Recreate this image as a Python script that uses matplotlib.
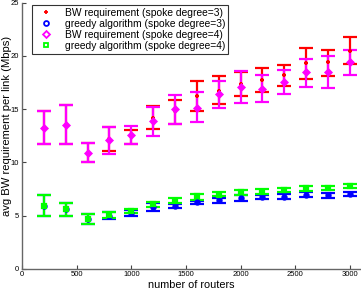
import numpy as np
import matplotlib
matplotlib.use("Agg")
import matplotlib.pyplot as plt

plt.rcParams["font.family"] = ["Liberation Sans", "DejaVu Sans"]

# ── data ─────────────────────────────────────────────────────────────────────
routers = [200, 400, 600, 800, 1000, 1200, 1400, 1600, 1800, 2000, 2200, 2400, 2600, 2800, 3000]

bw3_mean = [13.2, 13.5, 10.9, 12.2, 12.5, 14.2, 14.8, 16.2, 16.7, 17.4, 17.7, 18.2, 19.3, 19.4, 20.5]
bw3_low  = [11.7, 11.7, 10.0, 11.05, 11.7, 13.15, 13.6, 14.8, 15.5, 16.2, 16.6, 17.2, 17.85, 18.1, 19.25]
bw3_high = [14.8, 15.35, 11.8, 13.3, 13.0, 15.25, 15.85, 17.6, 18.1, 18.5, 18.9, 19.1, 20.7, 20.6, 21.75]

gr3_mean = [5.9, 5.6, 4.65, 5.0, 5.2, 5.8, 5.9, 6.25, 6.45, 6.6, 6.75, 6.75, 6.95, 6.9, 7.0]
gr3_low  = [4.93, 4.93, 4.2, 4.7, 4.95, 5.45, 5.7, 6.05, 6.2, 6.4, 6.55, 6.55, 6.7, 6.65, 6.8]
gr3_high = [6.9, 6.2, 5.1, 5.35, 5.5, 6.15, 6.1, 6.4, 6.65, 6.9, 6.95, 7.0, 7.2, 7.15, 7.2]

bw4_mean = [13.2, 13.5, 10.9, 12.1, 12.6, 13.9, 15.0, 15.1, 16.4, 17.1, 16.9, 17.55, 18.45, 18.5, 19.4]
bw4_low  = [11.7, 11.7, 10.0, 10.8, 11.7, 12.5, 13.6, 13.75, 15.1, 15.6, 15.7, 16.45, 17.1, 17.0, 18.2]
bw4_high = [14.8, 15.35, 11.8, 13.3, 13.4, 15.2, 16.35, 16.6, 17.6, 18.55, 18.25, 18.65, 19.7, 19.95, 20.6]

gr4_mean = [5.9, 5.6, 4.65, 5.05, 5.4, 6.05, 6.4, 6.8, 6.95, 7.2, 7.25, 7.4, 7.55, 7.55, 7.75]
gr4_low  = [4.93, 4.93, 4.2, 4.75, 5.2, 5.8, 6.15, 6.5, 6.8, 6.95, 7.05, 7.2, 7.3, 7.35, 7.55]
gr4_high = [6.9, 6.2, 5.1, 5.35, 5.6, 6.3, 6.65, 7.05, 7.2, 7.4, 7.5, 7.6, 7.8, 7.8, 8.0]

labels = [
    "BW requirement (spoke degree=3)",
    "greedy algorithm (spoke degree=3)",
    "BW requirement (spoke degree=4)",
    "greedy algorithm (spoke degree=4)",
]

# ── plot ─────────────────────────────────────────────────────────────────────
fig = plt.figure(figsize=(3.61, 2.90), dpi=100)
ax = fig.add_axes([22 / 361, 1 - 268.7 / 290, 338.8 / 361, 266.0 / 290])

series = [
    (bw3_mean, bw3_low, bw3_high, "#ff0000", "+", 3.5),
    (gr3_mean, gr3_low, gr3_high, "#0000ff", "o", 3.0),
    (bw4_mean, bw4_low, bw4_high, "#ff00ff", "D", 3.0),
    (gr4_mean, gr4_low, gr4_high, "#00ff00", "s", 3.0),
]

x = np.array(routers)
for (m, lo, hi, c, mk, ms), lab in zip(series, labels):
    m, lo, hi = np.array(m), np.array(lo), np.array(hi)
    ax.errorbar(x, m, yerr=[m - lo, hi - m], fmt="none", ecolor=c,
                elinewidth=1.6, capsize=4.8, capthick=1.6, zorder=2)
    ax.plot(x, m, linestyle="none", marker=mk, color=c, markersize=ms,
            markeredgewidth=1.6, zorder=3)
    ax.plot([], [], linestyle="none", marker=mk, color=c, markersize=3.5,
            markerfacecolor="none", markeredgewidth=1.3, label=lab)

ax.set_xlim(0, 3100)
ax.set_ylim(0, 25)
ax.set_xticks(np.arange(0, 3001, 500))
ax.set_yticks(np.arange(0, 26, 5))
ax.tick_params(direction="in", length=3, width=0.8, labelsize=5.5,
               colors="#444444", pad=2)
ax.tick_params(labelcolor="black")
for s in ["top", "right"]:
    ax.spines[s].set_visible(False)
for s in ["left", "bottom"]:
    ax.spines[s].set_color("#666666")
    ax.spines[s].set_linewidth(1.0)

ax.set_xlabel("number of routers", fontsize=7.8, labelpad=1)
ax.set_ylabel("avg BW requirement per link (Mbps)", fontsize=8.1, labelpad=0)
ax.yaxis.set_label_coords(-0.03, 0.535)

leg = ax.legend(loc="upper left", bbox_to_anchor=(0.03, 0.99), fontsize=7.4,
                frameon=True, fancybox=False, borderpad=0.25, labelspacing=0.1,
                handletextpad=0.7, handlelength=2.2, borderaxespad=0)
leg.get_frame().set_edgecolor("black")
leg.get_frame().set_linewidth(0.8)

fig.savefig("out.png", dpi=100)
